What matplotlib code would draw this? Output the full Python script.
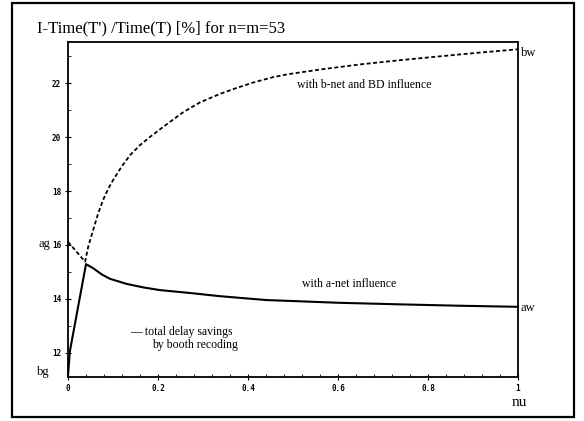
import matplotlib.pyplot as plt
from matplotlib.patches import Rectangle
from matplotlib.ticker import MultipleLocator

# solid: total delay savings (a-net influence)
solid_nu = [0.0, 0.004, 0.04, 0.056, 0.075, 0.093, 0.130, 0.167, 0.204, 0.278, 0.334, 0.39, 0.441,
            0.49, 0.6, 0.74, 0.87, 1.0]
solid_val = [11.15, 12.05, 15.29, 15.14, 14.91, 14.75, 14.56, 14.43, 14.33, 14.21, 14.11, 14.03, 13.96,
             13.93, 13.86, 13.80, 13.75, 13.71]

# dashed: with b-net and BD influence
dash_nu = [0.0, 0.038, 0.045, 0.056, 0.067, 0.078, 0.090, 0.10, 0.119, 0.138, 0.16, 0.182, 0.212,
           0.256, 0.293, 0.338, 0.375, 0.412, 0.456, 0.49, 0.56, 0.649, 0.74, 0.827, 0.91, 1.0]
dash_val = [16.12, 15.38, 15.94, 16.56, 17.17, 17.67, 18.10, 18.40, 18.90, 19.33, 19.70, 20.0, 20.38,
            20.92, 21.28, 21.60, 21.82, 22.02, 22.22, 22.33, 22.50, 22.69, 22.85, 22.99, 23.12, 23.25]

x_ticks = [0, 0.2, 0.4, 0.6, 0.8, 1]
x_tick_labels = ['0', '0.2', '0.4', '0.6', '0.8', '1']
y_ticks = [12, 14, 16, 18, 20, 22]

serif = 'Liberation Serif'

fig = plt.figure(figsize=(5.84, 4.21), dpi=100)
ax = fig.add_axes([68 / 584, 44 / 421, 450 / 584, 335 / 421])

# outer frame of the figure
fig.patches.append(Rectangle((12 / 584, 4 / 421), 562 / 584, 414 / 421, transform=fig.transFigure,
                             fill=False, edgecolor='k', linewidth=1.6))

ax.plot(solid_nu, solid_val, color='k', linewidth=1.5, clip_on=False)
ax.plot(dash_nu, dash_val, color='k', linewidth=1.3, linestyle=(0, (2.2, 1.4)), clip_on=False)

ax.set_xlim(0, 1)
ax.set_ylim(11.11, 23.52)
ax.set_xticks(x_ticks)
ax.set_xticklabels(x_tick_labels)
ax.set_yticks(y_ticks)
ax.xaxis.set_minor_locator(MultipleLocator(0.04))
ax.yaxis.set_minor_locator(MultipleLocator(1))
ax.tick_params(which='major', direction='inout', length=5, width=0.8, labelsize=5.5, pad=2.5)
ax.tick_params(which='minor', direction='in', length=2.5, width=0.6)
for lab in ax.get_xticklabels() + ax.get_yticklabels():
    lab.set_fontfamily('DejaVu Sans Mono')
    lab.set_fontweight('bold')
for sp in ax.spines.values():
    sp.set_linewidth(1.3)

fig.text(37 / 584, 1 - 28 / 421, "I-Time(T') /Time(T) [%] for n=m=53", family=serif, fontsize=12,
         va='center', ha='left')

ax.text(0.509, 21.93, 'with b-net and BD influence', family=serif, fontsize=8.5, va='center')
ax.text(0.52, 14.56, 'with a-net influence', family=serif, fontsize=8.5, va='center')
ax.text(0.138, 12.78, '\u2014 total delay savings', family=serif, fontsize=8.5, va='center')
ax.text(0.187, 12.30, 'by booth recoding', family=serif, fontsize=8.5, va='center')

ax.text(1.006, 23.11, 'bw', family=serif, fontsize=9, va='center', ha='left', clip_on=False)
ax.text(1.006, 13.67, 'aw', family=serif, fontsize=9, va='center', ha='left', clip_on=False)
ax.text(-0.04, 16.04, 'ag', family=serif, fontsize=9, va='center', ha='right', clip_on=False)
ax.text(-0.04, 11.3, 'bg', family=serif, fontsize=9, va='center', ha='right', clip_on=False)
fig.text(519 / 584, 1 - 402 / 421, 'nu', family=serif, fontsize=11, va='center', ha='center')

plt.savefig('out.png', dpi=100)
